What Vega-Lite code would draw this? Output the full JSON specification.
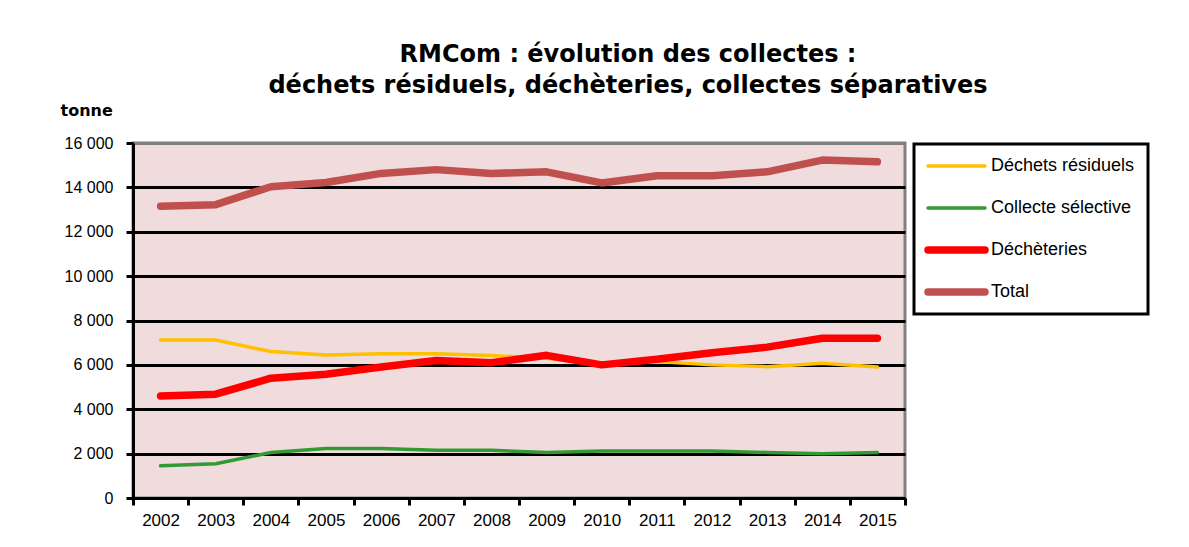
{
  "$schema": "https://vega.github.io/schema/vega-lite/v6.json",
  "width": 772,
  "height": 355,
  "autosize": "none",
  "padding": {"left": 133, "top": 143, "right": 284, "bottom": 49},
  "background": "white",
  "title": {
    "text": ["RMCom : évolution des collectes :", "déchets résiduels, déchèteries,  collectes séparatives"],
    "font": "DejaVu Sans",
    "fontSize": 24,
    "fontWeight": "bold",
    "color": "black",
    "anchor": "middle",
    "dx": 109,
    "offset": 4,
    "lineHeight": 31
  },
  "config": {
    "font": "Liberation Sans",
    "view": {"fill": "#F0DCDC", "stroke": "#808080", "strokeWidth": 3}
  },
  "data": {
    "values": [
      {"year": "2002", "serie": "Déchets résiduels", "v": 7120},
      {"year": "2003", "serie": "Déchets résiduels", "v": 7120},
      {"year": "2004", "serie": "Déchets résiduels", "v": 6600},
      {"year": "2005", "serie": "Déchets résiduels", "v": 6450},
      {"year": "2006", "serie": "Déchets résiduels", "v": 6500},
      {"year": "2007", "serie": "Déchets résiduels", "v": 6500},
      {"year": "2008", "serie": "Déchets résiduels", "v": 6420},
      {"year": "2009", "serie": "Déchets résiduels", "v": 6300},
      {"year": "2010", "serie": "Déchets résiduels", "v": 6000},
      {"year": "2011", "serie": "Déchets résiduels", "v": 6150},
      {"year": "2012", "serie": "Déchets résiduels", "v": 6000},
      {"year": "2013", "serie": "Déchets résiduels", "v": 5920},
      {"year": "2014", "serie": "Déchets résiduels", "v": 6070},
      {"year": "2015", "serie": "Déchets résiduels", "v": 5900},
      {"year": "2002", "serie": "Collecte sélective", "v": 1450},
      {"year": "2003", "serie": "Collecte sélective", "v": 1540},
      {"year": "2004", "serie": "Collecte sélective", "v": 2050},
      {"year": "2005", "serie": "Collecte sélective", "v": 2230},
      {"year": "2006", "serie": "Collecte sélective", "v": 2230},
      {"year": "2007", "serie": "Collecte sélective", "v": 2150},
      {"year": "2008", "serie": "Collecte sélective", "v": 2150},
      {"year": "2009", "serie": "Collecte sélective", "v": 2050},
      {"year": "2010", "serie": "Collecte sélective", "v": 2120},
      {"year": "2011", "serie": "Collecte sélective", "v": 2120},
      {"year": "2012", "serie": "Collecte sélective", "v": 2120},
      {"year": "2013", "serie": "Collecte sélective", "v": 2050},
      {"year": "2014", "serie": "Collecte sélective", "v": 1990},
      {"year": "2015", "serie": "Collecte sélective", "v": 2050},
      {"year": "2002", "serie": "Déchèteries", "v": 4600},
      {"year": "2003", "serie": "Déchèteries", "v": 4680},
      {"year": "2004", "serie": "Déchèteries", "v": 5400},
      {"year": "2005", "serie": "Déchèteries", "v": 5580},
      {"year": "2006", "serie": "Déchèteries", "v": 5900},
      {"year": "2007", "serie": "Déchèteries", "v": 6200},
      {"year": "2008", "serie": "Déchèteries", "v": 6100},
      {"year": "2009", "serie": "Déchèteries", "v": 6430},
      {"year": "2010", "serie": "Déchèteries", "v": 6000},
      {"year": "2011", "serie": "Déchèteries", "v": 6250},
      {"year": "2012", "serie": "Déchèteries", "v": 6550},
      {"year": "2013", "serie": "Déchèteries", "v": 6800},
      {"year": "2014", "serie": "Déchèteries", "v": 7200},
      {"year": "2015", "serie": "Déchèteries", "v": 7200},
      {"year": "2002", "serie": "Total", "v": 13150},
      {"year": "2003", "serie": "Total", "v": 13220},
      {"year": "2004", "serie": "Total", "v": 14030},
      {"year": "2005", "serie": "Total", "v": 14220},
      {"year": "2006", "serie": "Total", "v": 14630},
      {"year": "2007", "serie": "Total", "v": 14800},
      {"year": "2008", "serie": "Total", "v": 14630},
      {"year": "2009", "serie": "Total", "v": 14700},
      {"year": "2010", "serie": "Total", "v": 14200},
      {"year": "2011", "serie": "Total", "v": 14520},
      {"year": "2012", "serie": "Total", "v": 14520},
      {"year": "2013", "serie": "Total", "v": 14700},
      {"year": "2014", "serie": "Total", "v": 15230},
      {"year": "2015", "serie": "Total", "v": 15150}
    ]
  },
  "mark": {"type": "line", "strokeCap": "round", "strokeJoin": "round"},
  "encoding": {
    "x": {
      "field": "year",
      "type": "ordinal",
      "bandPosition": 0.5,
      "scale": {"type": "band", "paddingInner": 0, "paddingOuter": 0},
      "axis": {
        "title": null,
        "labelAngle": 0,
        "tickBand": "extent",
        "domainColor": "black",
        "domainWidth": 3,
        "tickColor": "black",
        "tickWidth": 3,
        "tickSize": 7,
        "labelFontSize": 17,
        "labelColor": "black",
        "labelPadding": 7,
        "grid": false
      }
    },
    "y": {
      "field": "v",
      "type": "quantitative",
      "scale": {"domain": [0, 16000], "nice": false},
      "axis": {
        "values": [0, 2000, 4000, 6000, 8000, 10000, 12000, 14000, 16000],
        "labelExpr": "replace(format(datum.value, ','), ',', ' ')",
        "title": "tonne",
        "titleAngle": 0,
        "titleAlign": "left",
        "titleBaseline": "middle",
        "titleX": -73,
        "titleY": -33,
        "titleFont": "DejaVu Sans",
        "titleFontSize": 16,
        "titleFontWeight": "bold",
        "titleColor": "black",
        "domainColor": "black",
        "domainWidth": 3,
        "tickColor": "black",
        "tickWidth": 3,
        "tickSize": 7,
        "labelFontSize": 16,
        "labelColor": "black",
        "labelPadding": 13,
        "grid": true,
        "gridColor": {"condition": {"test": "datum.value == 16000", "value": "#808080"}, "value": "black"},
        "gridWidth": 3,
        "gridOpacity": 1
      }
    },
    "color": {
      "field": "serie",
      "type": "nominal",
      "sort": ["Déchets résiduels", "Collecte sélective", "Déchèteries", "Total"],
      "scale": {
        "domain": ["Déchets résiduels", "Collecte sélective", "Déchèteries", "Total"],
        "range": ["#FFC000", "#339933", "#FF0000", "#C0504D"]
      },
      "legend": {
        "title": null,
        "orient": "none",
        "legendX": 781,
        "legendY": 1,
        "symbolType": "M-1.6,0H9.8",
        "symbolSize": 100,
        "labelFontSize": 18,
        "labelColor": "black",
        "labelOffset": 46,
        "rowPadding": 24,
        "padding": 13,
        "strokeColor": "black",
        "fillColor": "white",
        "encode": {
          "legend": {"update": {"strokeWidth": {"value": 3}}},
          "symbols": {"update": {
            "strokeWidth": {"scale": "strokeWidth", "field": "value"},
            "strokeJoin": {"value": "round"},
            "strokeCap": {"value": "round"}
          }}
        }
      }
    },
    "strokeWidth": {
      "field": "serie",
      "type": "nominal",
      "sort": ["Déchets résiduels", "Collecte sélective", "Déchèteries", "Total"],
      "scale": {
        "type": "ordinal",
        "domain": ["Déchets résiduels", "Collecte sélective", "Déchèteries", "Total"],
        "range": [3.5, 3.5, 7.5, 7.5]
      },
      "legend": null
    }
  }
}
